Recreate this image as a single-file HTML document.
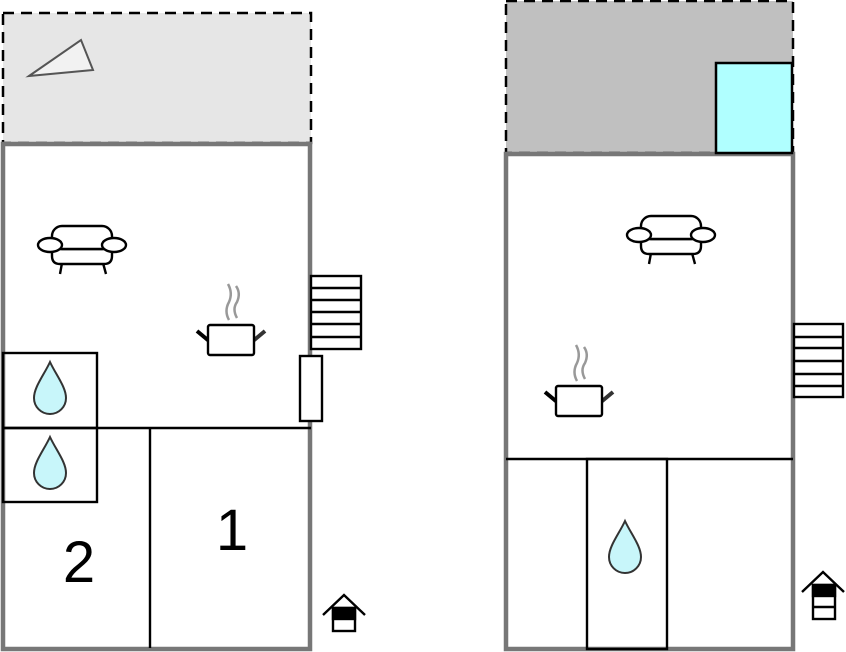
<!DOCTYPE html>
<html><head><style>html,body{margin:0;padding:0;background:#fff}svg{display:block}</style></head><body>
<svg width="846" height="652" viewBox="0 0 846 652" xmlns="http://www.w3.org/2000/svg">
<defs>
<g id="sofa" fill="#fff" stroke="#000" stroke-width="2.4">
<line x1="-20" y1="19" x2="-22" y2="30"/><line x1="21" y1="19" x2="24" y2="30"/>
<path d="M-30,5 L30,5 L30,12 Q30,20 22,20 L-22,20 Q-30,20 -30,12 Z"/>
<rect x="-30" y="-18" width="60" height="23" rx="10"/>
<ellipse cx="-32" cy="1" rx="12" ry="7"/><ellipse cx="32" cy="1" rx="12" ry="7"/>
</g>
<g id="pot">
<path d="M-2,-20 q-5,-9 0,-18 q4,-9 -1,-18" fill="none" stroke="#999" stroke-width="2.5"/>
<path d="M6,-22 q-5,-9 0,-16 q4,-9 -1,-16" fill="none" stroke="#999" stroke-width="2.5"/>
<line x1="-34" y1="-9" x2="-22" y2="1" stroke="#000" stroke-width="4"/>
<line x1="34" y1="-9" x2="22" y2="1" stroke="#333" stroke-width="4"/>
<rect x="-23" y="-15" width="46" height="30" rx="2" fill="#fff" stroke="#000" stroke-width="2.4"/>
</g>
<path id="drop" d="M0,-27 C-6,-14 -16,-2 -16,9 A16,16 0 0 0 16,9 C16,-2 6,-14 0,-27 Z" fill="#c8f6fa" stroke="#333" stroke-width="2"/>
</defs>

<!-- LEFT -->
<rect x="3" y="13" width="308" height="130" fill="#e6e6e6" stroke="#000" stroke-width="2.5" stroke-dasharray="11,7"/>
<polygon points="29,76 81,40 93,70" fill="#f2f2f2" stroke="#555" stroke-width="2"/>
<rect x="3" y="144" width="307" height="505" fill="#fff" stroke="#777" stroke-width="4.5"/>
<g stroke="#000" stroke-width="2.4" fill="none">
<line x1="3" y1="428" x2="311" y2="428"/>
<line x1="150" y1="428" x2="150" y2="648"/>
<rect x="3" y="353" width="94" height="149"/>
<line x1="3" y1="428" x2="97" y2="428"/>
<rect x="300" y="356" width="22" height="65" fill="#fff"/>
<rect x="311" y="276" width="50" height="73" fill="#fff"/>
<line x1="311" y1="288" x2="361" y2="288"/><line x1="311" y1="300" x2="361" y2="300"/>
<line x1="311" y1="312" x2="361" y2="312"/><line x1="311" y1="324" x2="361" y2="324"/>
<line x1="311" y1="337" x2="361" y2="337"/>
</g>
<use href="#sofa" x="82" y="244"/>
<use href="#pot" x="231" y="340"/>
<use href="#drop" x="50" y="389"/>
<use href="#drop" x="50" y="464"/>
<text x="79" y="582" font-family="Liberation Sans, sans-serif" font-size="58" text-anchor="middle">2</text>
<text x="232" y="550" font-family="Liberation Sans, sans-serif" font-size="58" text-anchor="middle">1</text>
<g stroke="#000" stroke-width="2.4" fill="#fff">
<polyline points="323,615 344,595 365,615" fill="none"/>
<rect x="333" y="608" width="22" height="23"/>
<rect x="333" y="608" width="22" height="11" fill="#000"/>
</g>

<!-- RIGHT -->
<rect x="506" y="1" width="287" height="152" fill="#c0c0c0" stroke="#000" stroke-width="2.5" stroke-dasharray="11,7"/>
<rect x="506" y="154" width="287" height="495" fill="#fff" stroke="#777" stroke-width="4.5"/>
<rect x="716" y="63" width="76" height="90" fill="#b0ffff" stroke="#000" stroke-width="2.5"/>
<g stroke="#000" stroke-width="2.4" fill="none">
<line x1="506" y1="459" x2="793" y2="459"/>
<rect x="587" y="459" width="80" height="190"/>
<rect x="794" y="324" width="49" height="73" fill="#fff"/>
<line x1="794" y1="337" x2="843" y2="337"/><line x1="794" y1="348" x2="843" y2="348"/>
<line x1="794" y1="361" x2="843" y2="361"/><line x1="794" y1="374" x2="843" y2="374"/>
<line x1="794" y1="386" x2="843" y2="386"/>
</g>
<use href="#sofa" x="671" y="234"/>
<use href="#pot" x="579" y="401"/>
<use href="#drop" x="625" y="548"/>
<g stroke="#000" stroke-width="2.4" fill="#fff">
<polyline points="802,592 823,572 844,592" fill="none"/>
<rect x="813" y="585" width="22" height="34"/>
<rect x="813" y="585" width="22" height="11" fill="#000"/>
<line x1="813" y1="607" x2="835" y2="607"/>
</g>
</svg>
</body></html>
